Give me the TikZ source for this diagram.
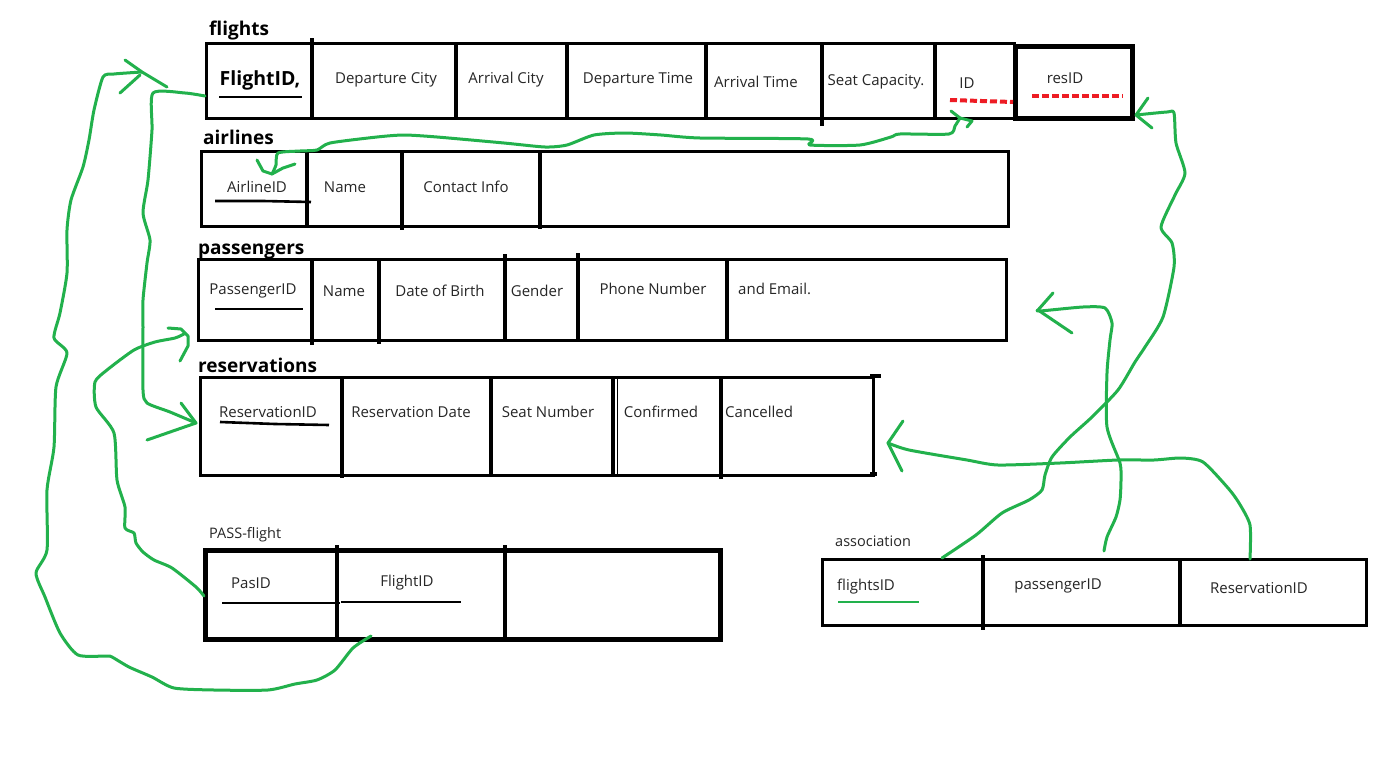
\documentclass[tikz,border=0pt]{standalone}
\usepackage{fontspec}
\setmainfont{Open Sans}
\definecolor{paintgreen}{HTML}{22B14C}
\definecolor{paintred}{HTML}{ED1C24}
\definecolor{ink}{HTML}{262626}

\begin{document}
\begin{tikzpicture}[x=1pt,y=-1pt,
  frame/.style={draw=black, line width=3.2pt, inner sep=0pt, anchor=north west},
  heavyframe/.style={frame, line width=5pt},
  divider/.style={line width=3.2pt},
  heavydivider/.style={line width=4pt},
  cell/.style={inner sep=0pt, text=ink, font=\fontsize{15}{17}\selectfont},
  leftcell/.style={cell, anchor=west},
  title/.style={inner sep=0pt, anchor=base west, font=\bfseries\fontsize{19}{22}\selectfont},
  caption/.style={inner sep=0pt, anchor=base west, text=ink, font=\fontsize{14.5}{16}\selectfont},
  keyline/.style={line width=2.6pt},
  link/.style={draw=paintgreen, line width=3pt, line cap=round, line join=round},
  barb/.style={link},
  redmark/.style={draw=paintred, line width=4pt, dash pattern=on 7pt off 3pt}
]
\fill[white] (0,0) rectangle (1392,771);
\useasboundingbox (0,0) rectangle (1392,771);

% ---------------- flights ----------------
\node[title] (t-flights) at (209,35) {flights};
\node[frame, minimum width=808pt, minimum height=75pt] (flights) at (205,42) {};
\node[heavyframe, minimum width=117pt, minimum height=72pt] (resid) at (1013,44) {};
\draw[divider] (312,38) -- (312,117);
\draw[divider] (456,42) -- (456,117);
\draw[divider] (567,42) -- (567,117);
\draw[divider] (706,42) -- (706,117);
\draw[divider] (822,42) -- (822,126);
\draw[divider] (935,42) -- (935,117);
\node[cell, text=black, font=\bfseries\fontsize{19.5}{22}\selectfont] (f-id) at (260,80) {FlightID,};
\draw[keyline] (219,97) -- (302,97);
\node[cell] (f-depc) at (386,80) {Departure City};
\node[cell] (f-arrc) at (506,80) {Arrival City};
\node[cell] (f-dept) at (638,80) {Departure Time};
\node[cell] (f-arrt) at (756,82) {Arrival Time};
\node[cell] (f-seat) at (876,82) {Seat Capacity.};
\node[cell] (f-ref) at (967,83) {ID};
\node[cell] (f-res) at (1065,78) {resID};
\draw[redmark] (950,100) -- (1013,102);
\draw[redmark] (1032,96) -- (1123,96);

% ---------------- airlines ----------------
\node[title] (t-airlines) at (203,144) {airlines};
\node[frame, minimum width=807pt, minimum height=75pt] (airlines) at (200,150) {};
\draw[divider] (307,150) -- (307,225);
\draw[divider] (402,150) -- (402,230);
\draw[divider] (540,150) -- (540,229);
\node[cell] (a-id) at (257,187) {AirlineID};
\draw[keyline] (215,201) -- (263,201) -- (311,202);
\node[cell] (a-name) at (345,187) {Name};
\node[cell] (a-contact) at (466,187) {Contact Info};

% ---------------- passengers ----------------
\node[title] (t-passengers) at (198,254) {passengers};
\node[frame, minimum width=808pt, minimum height=81pt] (passengers) at (197,258) {};
\draw[divider] (312,258) -- (312,345);
\draw[divider] (379,258) -- (379,344);
\draw[divider] (505,254) -- (505,341);
\draw[divider] (578,253) -- (578,339);
\draw[divider] (727,258) -- (727,339);
\node[cell] (p-id) at (253,291) {PassengerID};
\draw[keyline] (215,309) -- (303,309);
\node[cell] (p-name) at (344,291) {Name};
\node[cell] (p-dob) at (440,291) {Date of Birth};
\node[cell] (p-gender) at (537,291) {Gender};
\node[cell] (p-phone) at (653,289) {Phone Number};
\node[leftcell] (p-email) at (738,289) {and Email.};

% ---------------- reservations ----------------
\node[title] (t-reservations) at (198,372) {reservations};
\node[frame, minimum width=673pt, minimum height=98pt] (reservations) at (199,376) {};
\draw[divider] (870,376) -- (881,376);
\draw[divider] (870,474) -- (877,474);
\draw[divider] (342,376) -- (342,478);
\draw[divider] (491,376) -- (491,476);
\draw[divider] (613,376) -- (613,476);
\draw[line width=1pt] (617,376) -- (617,474);
\draw[divider] (721,376) -- (721,479);
\node[cell] (r-id) at (268,412) {ReservationID};
\draw[keyline] (220,422) -- (275,424) -- (329,425);
\node[cell] (r-date) at (411,412) {Reservation Date};
\node[cell] (r-seat) at (548,412) {Seat Number};
\node[cell] (r-conf) at (661,412) {Confirmed};
\node[leftcell] (r-canc) at (725,412) {Cancelled};

% ---------------- PASS-flight ----------------
\node[caption] (t-passflight) at (209,538) {PASS-flight};
\node[heavyframe, minimum width=515pt, minimum height=89pt] (passflight) at (203,548) {};
\draw[heavydivider] (337,545) -- (337,637);
\draw[heavydivider] (505,545) -- (505,640);
\node[cell] (pf-pas) at (251,583) {PasID};
\draw[keyline] (222,603) -- (340,603);
\node[cell] (pf-flight) at (407,583) {FlightID};
\draw[keyline] (341,602) -- (461,602);

% ---------------- association ----------------
\node[caption] (t-association) at (835,546) {association};
\node[frame, minimum width=544pt, minimum height=66pt] (association) at (821,558) {};
\draw[heavydivider] (983,555) -- (983,630);
\draw[heavydivider] (1180,558) -- (1180,624);
\node[leftcell] (as-flight) at (837,587) {flightsID};
\draw[keyline, paintgreen] (838,602) -- (919,602);
\node[cell] (as-pass) at (1058,586) {passengerID};
\node[cell] (as-res) at (1259,588) {ReservationID};

% ---------------- link end points ----------------
\coordinate (fl-key) at (205,96);
\coordinate (res-key) at (196,423);
\coordinate (pf-flight-out) at (371,636);
\coordinate (fl-tip) at (142,72);
\coordinate (pf-pas-out) at (204,596);
\coordinate (pass-tip) at (184,334);
\coordinate (al-tip) at (272,174);
\coordinate (id-tip) at (960,118);
\coordinate (as-flight-out) at (942,558);
\coordinate (resid-tip) at (1136,115);
\coordinate (as-pass-out) at (1104,551);
\coordinate (pass-right-tip) at (1038,310);
\coordinate (as-res-out) at (1250,559);
\coordinate (res-right-tip) at (888,443);

% flights.FlightID -> reservations.ReservationID
\draw[link] plot[smooth, tension=0.4] coordinates {(fl-key) (185,93) (153,93) (152,130) (148,180) (143,213) (150,240) (147,263) (143,300) (143,327) (143,390) (147,403) (170,412) (res-key)};
\draw[barb] (181,403) -- (res-key) -- (147,440);

% PASS-flight.FlightID -> flights
\draw[link] plot[smooth, tension=0.4] coordinates {(pf-flight-out) (353,648) (335,670) (317,680) (295,684) (268,690) (214,690) (174,688) (152,677) (129,667) (112,657) (107,656) (78,655) (60,633) (45,597) (36,573) (47,550) (47,490) (54,447) (56,387) (67,353) (54,338) (60,313) (67,273) (67,230) (71,200) (83,167) (89,140) (94,110) (103,77) (114,74) (fl-tip)};
\draw[barb] (125,60) -- (fl-tip) -- (167,87);
\draw[barb] (120,93) -- (140,75);

% PASS-flight.PasID -> passengers
\draw[link] plot[smooth, tension=0.4] coordinates {(pf-pas-out) (196,587) (172,568) (154,560) (143,552) (136,543) (134,533) (125,528) (125,507) (117,480) (114,433) (96,407) (95,382) (107,370) (134,350) (155,342) (175,338) (pass-tip)};
\draw[barb] (168,328) -- (181,329) -- (188,336) -- (188,346) -- (180,361);

% airlines.AirlineID <-> flights.ID
\draw[link] plot[smooth, tension=0.4] coordinates {(al-tip) (276,165) (278,153) (300,151) (317,150) (330,143) (377,137) (404,135) (437,137) (504,143) (545,147) (567,145) (594,135) (625,133) (661,135) (700,138) (808,139) (810,145) (860,145) (891,137) (900,134) (949,134) (955,126) (id-tip)};
\draw[barb] (257,160) -- (263,171) -- (al-tip) -- (283,168) -- (295,164);
\draw[barb] (951,111) -- (id-tip) -- (972,121) -- (967,127);

% association.flightsID -> flights.resID
\draw[link] plot[smooth, tension=0.4] coordinates {(as-flight-out) (976,535) (1002,513) (1029,500) (1042,490) (1045,475) (1052,457) (1070,437) (1092,417) (1118,390) (1135,362) (1145,347) (1163,317) (1174,267) (1172,243) (1161,227) (1175,195) (1185,173) (1176,143) (1174,113) (1167,112) (resid-tip)};
\draw[barb] (1148,98) -- (resid-tip) -- (1152,128);

% association.passengerID -> passengers
\draw[link] plot[smooth, tension=0.4] coordinates {(as-pass-out) (1107,537) (1116,517) (1120,500) (1121,480) (1120,463) (1107,427) (1107,373) (1110,340) (1112,323) (1105,308) (1083,307) (1040,311) (pass-right-tip)};
\draw[barb] (1053,293) -- (pass-right-tip) -- (1072,333);

% association.ReservationID -> reservations
\draw[link] plot[smooth, tension=0.4] coordinates {(as-res-out) (1250,525) (1239,503) (1228,488) (1203,462) (1181,458) (1154,460) (1118,460) (1060,463) (998,465) (967,460) (909,450) (res-right-tip)};
\draw[barb] (903,421) -- (res-right-tip) -- (902,471);

\end{tikzpicture}
\end{document}
